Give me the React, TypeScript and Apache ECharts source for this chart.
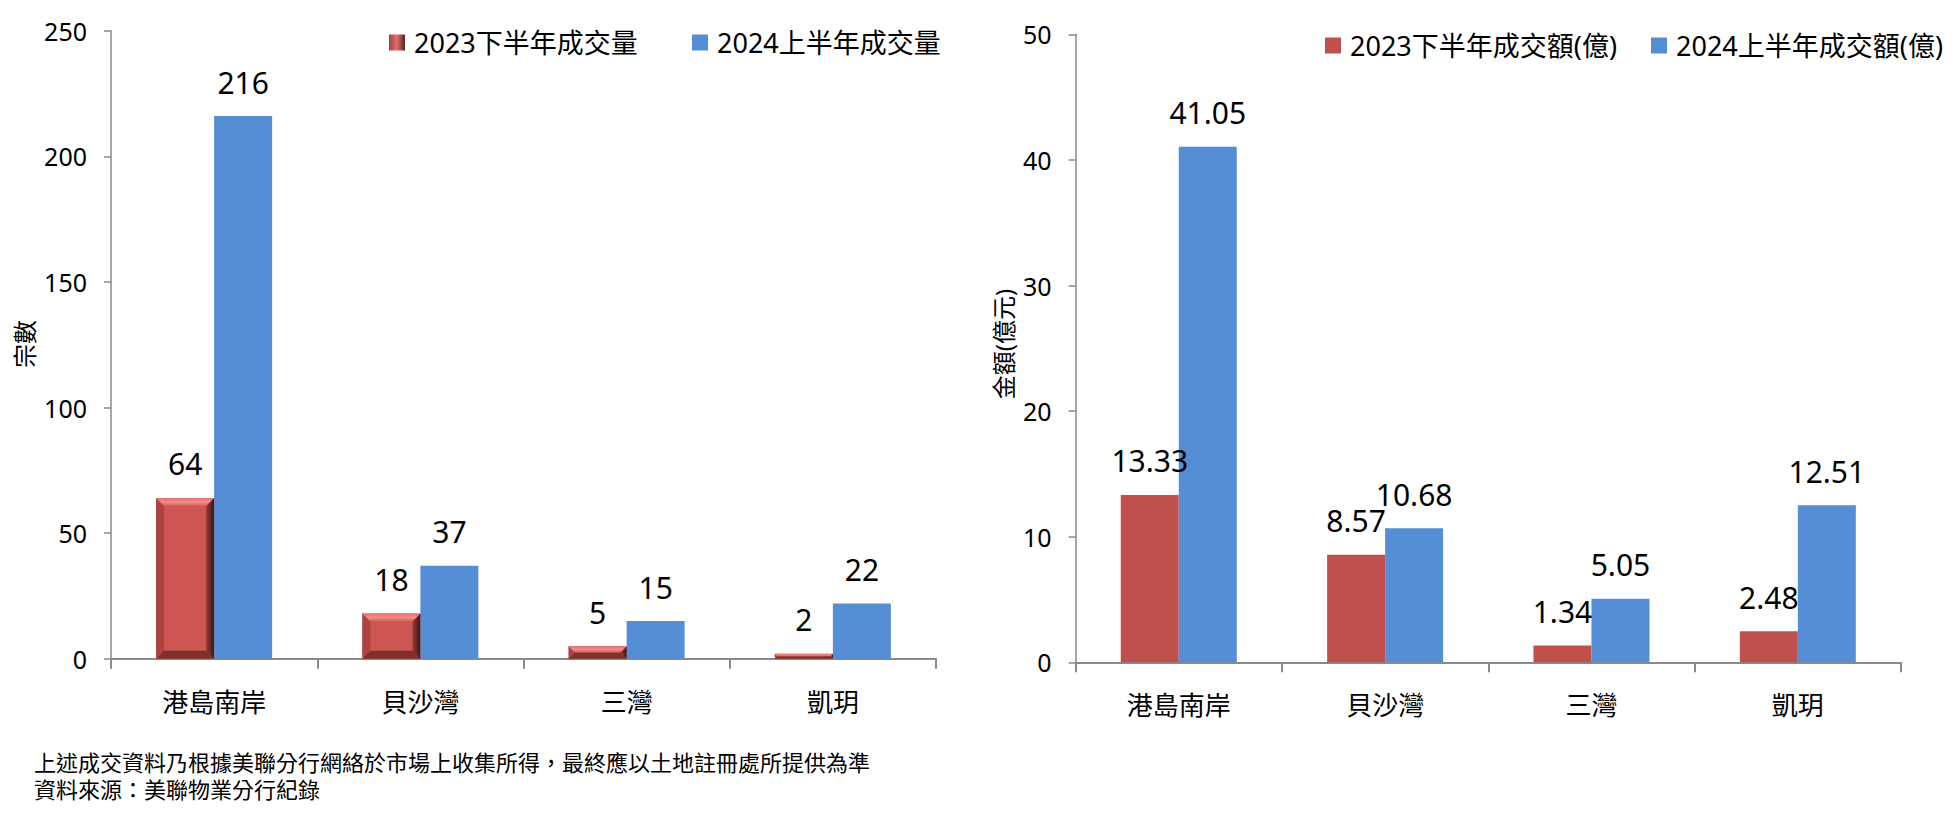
import React, { useEffect, useRef } from "react";
import * as echarts from "echarts";

const categories = ["港島南岸", "貝沙灣", "三灣", "凱玥"];
const volume2023H2 = [64, 18, 5, 2];
const volume2024H1 = [216, 37, 15, 22];
const amount2023H2 = [13.33, 8.57, 1.34, 2.48];
const amount2024H1 = [41.05, 10.68, 5.05, 12.51];

const volumeNames = ["2023下半年成交量", "2024上半年成交量"];
const amountNames = ["2023下半年成交額(億)", "2024上半年成交額(億)"];
const volumeAxisName = "宗數";
const amountAxisName = "金額(億元)";
const footnotes = [
  "上述成交資料乃根據美聯分行網絡於市場上收集所得，最終應以土地註冊處所提供為準",
  "資料來源：美聯物業分行紀錄",
];

const FONT = "'Noto Sans', 'Noto Sans CJK TC', sans-serif";
const BLUE = "#558ED5";
const RED = "#C0504D";
const BEVEL_RED = "#CD5653";
const BW = 58;

const bevelIcon = new echarts.graphic.LinearGradient(0, 0, 1, 0, [
  { offset: 0, color: "#a9403e" },
  { offset: 0.5, color: "#e0706d" },
  { offset: 1, color: "#5a2220" },
]);

function App() {
  const ref = useRef<HTMLDivElement>(null);
  useEffect(() => {
    if (!ref.current) return;
    const chart = echarts.init(ref.current, undefined, { renderer: "svg" });

    const axisLineColor = "#8a8a8a";
    const mkX = (gridIndex: number) => ({
      type: "category",
      gridIndex,
      data: categories,
      axisLine: { lineStyle: { color: axisLineColor, width: 2 } },
      axisTick: { show: true, length: 10, lineStyle: { color: axisLineColor, width: 2 } },
      axisLabel: { color: "#000", fontSize: 26, fontFamily: FONT, margin: 30 },
      splitLine: { show: false },
    });
    const mkY = (gridIndex: number, max: number, interval: number) => ({
      type: "value",
      gridIndex,
      min: 0,
      max,
      interval,
      axisLine: { show: true, lineStyle: { color: axisLineColor, width: 1.5 } },
      axisTick: { show: true, length: 7, lineStyle: { color: axisLineColor, width: 1.5 } },
      axisLabel: { color: "#000", fontSize: 25, fontFamily: FONT, margin: 24 },
      splitLine: { show: false },
    });
    const label = {
      show: true,
      position: "top",
      distance: 19,
      color: "#000",
      fontSize: 30,
      fontFamily: FONT,
    };

    const bevelRender = (params: any, api: any) => {
      const i = api.value(0);
      const v = api.value(1);
      const top = api.coord([i, v]);
      const base = api.coord([i, 0]);
      const r = top[0];
      const l = r - BW;
      const t = top[1];
      const b = base[1];
      const h = b - t;
      const e = Math.max(0, Math.min(8, h / 2));
      return {
        type: "group",
        children: [
          {
            type: "polygon",
            shape: { points: [[l, t], [l + e, t + e], [l + e, b - e], [l, b]] },
            style: { fill: "#ad4341" },
          },
          {
            type: "polygon",
            shape: { points: [[r, t], [r, b], [r - e, b - e], [r - e, t + e]] },
            style: {
              fill: new echarts.graphic.LinearGradient(0, 0, 1, 0, [
                { offset: 0, color: "#9a3d3a" },
                { offset: 1, color: "#3a1513" },
              ]),
            },
          },
          {
            type: "polygon",
            shape: { points: [[l, b], [r, b], [r - e, b - e], [l + e, b - e]] },
            style: { fill: "#7d302e" },
          },
          {
            type: "polygon",
            shape: { points: [[l, t], [r, t], [r - e, t + e], [l + e, t + e]] },
            style: {
              fill: new echarts.graphic.LinearGradient(0, 0, 0, 1, [
                { offset: 0, color: "#e46e6b" },
                { offset: 0.5, color: "#f28d8a" },
                { offset: 1, color: "#d35d5a" },
              ]),
            },
          },
        ],
      };
    };

    const mkLegend = (name: string, left: number, top: number, icon?: any) => ({
      show: true,
      left,
      top,
      orient: "horizontal",
      itemWidth: 16,
      itemHeight: 16,
      icon: "rect",
      selectedMode: false,
      data: [icon ? { name, itemStyle: { color: icon } } : { name }],
      textStyle: {
        color: "#000",
        fontSize: 27,
        fontFamily: FONT,
        lineHeight: 27,
        padding: [0, 0, 0, 4],
      },
    });

    const textStyle = (text: string, fontSize: number, align: string) => ({
      text,
      fontSize,
      fontFamily: FONT,
      fill: "#000",
      align,
      verticalAlign: "middle",
    });

    chart.setOption({
      animation: false,
      backgroundColor: "#fff",
      grid: [
        { left: 111, top: 30.7, width: 825, height: 628 },
        { left: 1075.6, top: 34.3, width: 825.4, height: 628 },
      ],
      xAxis: [mkX(0), mkX(1)],
      yAxis: [mkY(0, 250, 50), mkY(1, 50, 10)],
      legend: [
        mkLegend(volumeNames[0], 384, 24, bevelIcon),
        mkLegend(volumeNames[1], 687, 24),
        mkLegend(amountNames[0], 1320, 27),
        mkLegend(amountNames[1], 1646, 27),
      ],
      series: [
        {
          type: "bar",
          name: volumeNames[0],
          xAxisIndex: 0,
          yAxisIndex: 0,
          data: volume2023H2,
          barWidth: BW,
          barGap: "0%",
          itemStyle: { color: BEVEL_RED },
          label,
        },
        {
          type: "bar",
          name: volumeNames[1],
          xAxisIndex: 0,
          yAxisIndex: 0,
          data: volume2024H1,
          barWidth: BW,
          barGap: "0%",
          itemStyle: { color: BLUE },
          label,
        },
        {
          type: "custom",
          xAxisIndex: 0,
          yAxisIndex: 0,
          silent: true,
          z: 5,
          data: volume2023H2.map((v, i) => [i, v]),
          encode: { x: 0, y: 1 },
          renderItem: bevelRender,
        },
        {
          type: "bar",
          name: amountNames[0],
          xAxisIndex: 1,
          yAxisIndex: 1,
          data: amount2023H2,
          barWidth: BW,
          barGap: "0%",
          itemStyle: { color: RED },
          label,
        },
        {
          type: "bar",
          name: amountNames[1],
          xAxisIndex: 1,
          yAxisIndex: 1,
          data: amount2024H1,
          barWidth: BW,
          barGap: "0%",
          itemStyle: { color: BLUE },
          label,
        },
      ],
      graphic: [
        { type: "text", x: 24, y: 344, rotation: Math.PI / 2, style: textStyle(volumeAxisName, 24, "center") },
        { type: "text", x: 1003, y: 344, rotation: Math.PI / 2, style: textStyle(amountAxisName, 24, "center") },
        { type: "text", x: 34, y: 762, style: textStyle(footnotes[0], 22, "left") },
        { type: "text", x: 34, y: 789, style: textStyle(footnotes[1], 22, "left") },
      ],
    });
    return () => chart.dispose();
  }, []);
  return (
    <div
      ref={ref}
      style={{ position: "fixed", left: 0, top: 0, width: 1959, height: 816, background: "#fff" }}
    />
  );
}

export default App;
